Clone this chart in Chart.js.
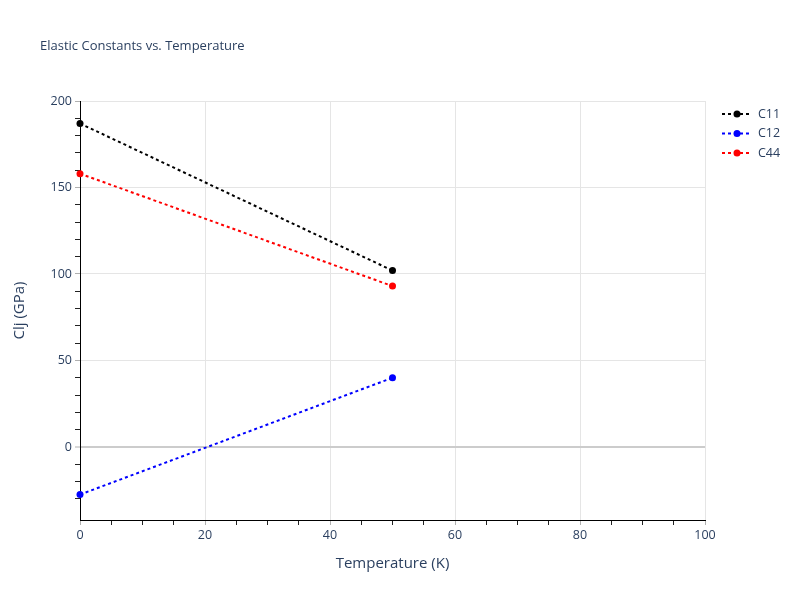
<!DOCTYPE html>
<html>
<head>
<meta charset="utf-8">
<script src="https://cdn.jsdelivr.net/npm/chart.js@4/dist/chart.umd.min.js"></script>
<style>
  html, body { margin: 0; padding: 0; background: #fff; }
  #wrap { width: 800px; height: 600px; }
</style>
</head>
<body>
<div id="wrap"><canvas id="grafico"></canvas></div>
<script>
// dados
const temperaturas = [0, 50];
const serieC11 = [187, 102];
const serieC12 = [-27.5, 40];
const serieC44 = [158, 93];
const nomesSeries = ['C11', 'C12', 'C44'];
const coresSeries = ['#000000', '#0000ff', '#ff0000'];

const corTexto = '#2a3f5f';
const fonte = '"Open Sans", "Noto Sans", sans-serif';

function pontos(valores) {
    return temperaturas.map((t, i) => ({ x: t, y: valores[i] }));
}

function multiplo(v, passo) {
    return Math.abs(Math.round(v / passo) * passo - v) < 1e-6;
}

// título e legenda desenhados à parte
const extras = {
    id: 'extras',
    afterDraw(chart) {
        const c = chart.ctx;
        c.save();
        c.fillStyle = corTexto;
        c.font = '13px ' + fonte;
        c.textBaseline = 'middle';
        c.textAlign = 'left';
        c.fillText('Elastic Constants vs. Temperature', 40, 46);

        chart.data.datasets.forEach((ds, i) => {
            const y = 114 + i * 19.5;
            c.strokeStyle = ds.borderColor;
            c.lineWidth = 2;
            c.setLineDash([3, 3]);
            c.beginPath();
            c.moveTo(722, y);
            c.lineTo(752, y);
            c.stroke();
            c.setLineDash([]);
            c.fillStyle = ds.borderColor;
            c.beginPath();
            c.arc(737, y, 3.5, 0, Math.PI * 2);
            c.fill();
            c.fillStyle = corTexto;
            c.font = '12.5px ' + fonte;
            c.fillText(ds.label, 758, y);
        });
        c.restore();
    }
};

const valoresSeries = [serieC11, serieC12, serieC44];

const config = {
    type: 'line',
    data: {
        datasets: nomesSeries.map((nome, i) => ({
            label: nome,
            data: pontos(valoresSeries[i]),
            borderColor: coresSeries[i],
            backgroundColor: coresSeries[i],
            borderWidth: 2,
            borderDash: [3, 3],
            pointRadius: 3.5,
            pointHoverRadius: 3.5,
            pointBorderWidth: 0,
            fill: false,
            clip: false
        }))
    },
    options: {
        responsive: false,
        animation: false,
        layout: { padding: { left: 0, top: 101, right: 95, bottom: 0 } },
        plugins: {
            legend: { display: false },
            tooltip: { enabled: false }
        },
        scales: {
            x: {
                type: 'linear',
                min: 0,
                max: 100,
                afterFit(scale) { scale.height = 80; },
                afterBuildTicks(scale) {
                    scale.ticks = scale.ticks.filter(t => multiplo(t.value, 5));
                },
                ticks: {
                    stepSize: 5,
                    autoSkip: false,
                    maxRotation: 0,
                    padding: 3,
                    color: corTexto,
                    font: { family: fonte, size: 12.5 },
                    callback: v => multiplo(v, 20) ? v : ''
                },
                grid: {
                    color: ctx => multiplo(ctx.tick.value, 20) ? '#e5e5e5' : 'rgba(0,0,0,0)',
                    lineWidth: 1,
                    tickColor: ctx => multiplo(ctx.tick.value, 20) ? '#b0b0b0' : '#222',
                    tickLength: 5,
                    drawTicks: true
                },
                border: { display: true, color: '#000', width: 1 },
                title: {
                    display: true,
                    text: 'Temperature (K)',
                    color: corTexto,
                    font: { family: fonte, size: 15 },
                    padding: { top: 0, bottom: 27 }
                }
            },
            y: {
                type: 'linear',
                min: -42.2,
                max: 200,
                afterFit(scale) { scale.width = 80; },
                afterBuildTicks(scale) {
                    scale.ticks = scale.ticks.filter(t => multiplo(t.value, 10));
                },
                ticks: {
                    stepSize: 10,
                    autoSkip: false,
                    padding: 3,
                    color: corTexto,
                    font: { family: fonte, size: 12.5 },
                    callback: v => multiplo(v, 50) ? v : ''
                },
                grid: {
                    color: ctx => {
                        const v = ctx.tick.value;
                        if (v === 0) return '#cccccc';
                        return multiplo(v, 50) ? '#e5e5e5' : 'rgba(0,0,0,0)';
                    },
                    lineWidth: ctx => ctx.tick.value === 0 ? 2 : 1,
                    tickWidth: 1,
                    tickColor: ctx => multiplo(ctx.tick.value, 50) ? '#b0b0b0' : '#222',
                    tickLength: 5,
                    drawTicks: true
                },
                border: { display: true, color: '#000', width: 1 },
                title: {
                    display: true,
                    text: 'Clj (GPa)',
                    color: corTexto,
                    font: { family: fonte, size: 15 },
                    padding: { top: 11, bottom: 0 }
                }
            }
        }
    },
    plugins: [extras]
};

const canvas = document.getElementById('grafico');
canvas.width = 800;
canvas.height = 600;
const grafico = new Chart(canvas, config);
</script>
</body>
</html>
